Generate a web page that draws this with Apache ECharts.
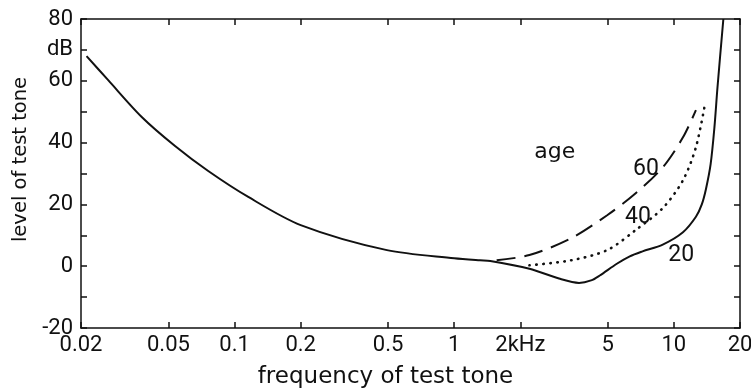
<!DOCTYPE html>
<html>
<head>
<meta charset="utf-8">
<script src="https://cdn.jsdelivr.net/npm/echarts@6/dist/echarts.min.js"></script>
<style>
  html, body { margin: 0; background: #fff; }
  #chart { width: 751px; height: 390px; }
</style>
</head>
<body>
<div id="chart"></div>
<script>
// frequency ticks (kHz), log scale
var freqTicks = [0.02, 0.05, 0.1, 0.2, 0.5, 1, 2, 5, 10, 20];
// hearing threshold curves [kHz, dB] for ages 20 / 40 / 60
var age20 = [[0.0212, 68], [0.0266, 60.2], [0.0378, 48.3], [0.0536, 38.9], [0.0759, 30.8], [0.1155, 22.4],
  [0.2, 13.3], [0.494, 5.2], [1, 2.6], [1.31, 1.9], [1.46, 1.7], [2.2, -0.8], [3, -4], [3.7, -5.4],
  [4.2, -4.6], [4.6, -3], [5.5, 0.8], [6.3, 3.2], [7.2, 4.8], [8.9, 7], [11, 11], [12.6, 16],
  [13.4, 20], [14, 25], [14.7, 33], [15.3, 45], [15.8, 58], [16.8, 80]];
var age40 = [[2.2, 0.3], [3.4, 1.9], [4.97, 5.2], [6.7, 11.7], [8.9, 18.8], [11, 27.8], [12.6, 38.5], [13.9, 53]];
var age60 = [[1.56, 1.9], [2.2, 3.6], [3.4, 9], [4.97, 16.5], [6.7, 23.6], [8.9, 32], [11, 41.7], [12.6, 50.5]];
// curve annotations [kHz, dB, text]
var notes = [[2.87, 36.9, 'age'], [7.46, 31.4, '60'], [6.86, 15.9, '40'], [10.8, 3.6, '20']];

var chart = echarts.init(document.getElementById('chart'));
var ink = '#111';
var wordFont = 'DejaVu Sans';
var numFont = 'Roboto';

function xAx(pos, labels) {
  return {
    type: 'log', logBase: 10, min: 0.02, max: 20, position: pos,
    name: labels ? 'frequency of test tone' : '',
    nameLocation: 'middle', nameGap: 38,
    nameTextStyle: { color: ink, fontFamily: wordFont, fontSize: 23, padding: [0, 50, 0, 0] },
    axisLine: { show: true, onZero: false, lineStyle: { color: ink, width: 1.5 } },
    axisTick: { show: true, inside: true, length: 6, customValues: freqTicks, lineStyle: { color: ink, width: 1.5 } },
    axisLabel: {
      show: labels, customValues: freqTicks, color: ink, fontFamily: numFont, fontSize: 22, margin: 6,
      formatter: function (v) { return v === 2 ? '2kHz' : String(v); }
    },
    splitLine: { show: false }, minorTick: { show: false }
  };
}
function yAx(pos, labels) {
  return {
    type: 'value', min: -20, max: 80, interval: 10, position: pos,
    name: labels ? 'level of test tone' : '',
    nameLocation: 'middle', nameGap: 47,
    nameTextStyle: { color: ink, fontFamily: wordFont, fontSize: 19.5, padding: [0, 0, 0, 28] },
    axisLine: { show: true, onZero: false, lineStyle: { color: ink, width: 1.5 } },
    axisTick: { show: true, inside: true, length: 6, lineStyle: { color: ink, width: 1.5 } },
    axisLabel: {
      show: labels, color: ink, fontFamily: numFont, fontSize: 22, margin: 8,
      formatter: function (v) { return v % 20 === 0 ? String(v) : (v === 70 ? 'dB' : ''); }
    },
    splitLine: { show: false }
  };
}

var option = {
  animation: false,
  backgroundColor: '#fff',
  grid: { left: 81, right: 11, top: 19, bottom: 62, outerBoundsMode: 'none' },
  xAxis: [xAx('bottom', true), xAx('top', false)],
  yAxis: [yAx('left', true), yAx('right', false)],
  series: [
    { type: 'line', data: age20, smooth: 0.3, showSymbol: false,
      lineStyle: { color: ink, width: 2 } },
    { type: 'line', data: age40, smooth: 0.3, showSymbol: false,
      lineStyle: { color: ink, width: 2.6, type: [0.5, 6.5], cap: 'round' } },
    { type: 'line', data: age60, smooth: 0.3, showSymbol: false,
      lineStyle: { color: ink, width: 2, type: [19, 9] } },
    { type: 'scatter', data: notes, symbolSize: 0, silent: true,
      itemStyle: { opacity: 1 },
      label: { show: true, position: 'inside', color: ink, fontFamily: numFont, fontSize: 23,
        formatter: function (p) {
          var t = p.data[2];
          return isNaN(Number(t)) ? '{w|' + t + '}' : t;
        },
        rich: { w: { fontFamily: wordFont, fontSize: 22, color: ink } } } }
  ]
};
chart.setOption(option);
</script>
</body>
</html>
